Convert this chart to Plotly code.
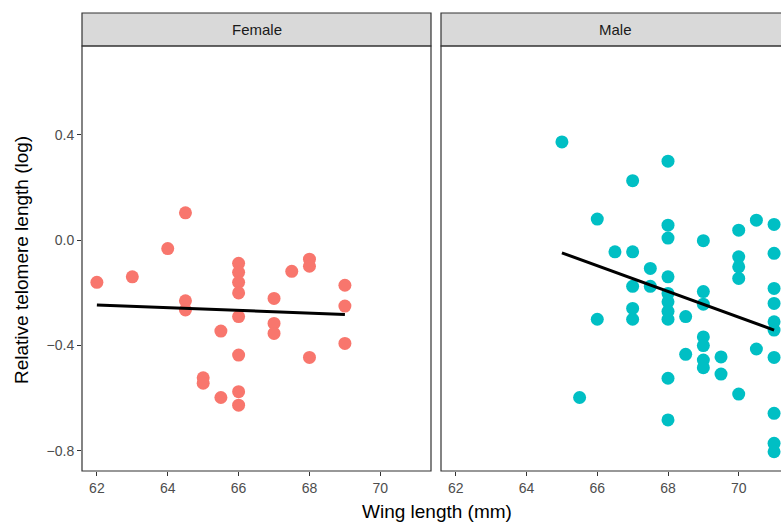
import plotly.graph_objects as go

# ---- data ----
female_wing = [62, 63, 64, 64.5, 64.5, 64.5, 65, 65, 65.5, 65.5,
               66, 66, 66, 66, 66, 66, 66, 66,
               67, 67, 67, 67.5, 68, 68, 68, 69, 69, 69]
female_tl = [-0.16, -0.139, -0.032, 0.104, -0.23, -0.265, -0.522, -0.543, -0.345, -0.597,
             -0.088, -0.122, -0.16, -0.20, -0.29, -0.436, -0.575, -0.626,
             -0.221, -0.316, -0.354, -0.118, -0.072, -0.099, -0.445, -0.171, -0.25, -0.392]

male_wing = [65, 65.5, 66, 66, 66.5,
             67, 67, 67, 67, 67, 67.5, 67.5,
             68, 68, 68, 68, 68, 68, 68, 68, 68, 68,
             68.5, 68.5,
             69, 69, 69, 69, 69, 69, 69,
             69.5, 69.5,
             70, 70, 70, 70, 70,
             70.5, 70.5,
             71, 71, 71, 71, 71, 71, 71, 71, 71, 71]
male_tl = [0.373, -0.597, 0.08, -0.30, -0.044,
           0.226, -0.044, -0.175, -0.259, -0.30, -0.107, -0.175,
           0.30, 0.057, 0.008, -0.139, -0.202, -0.234, -0.27, -0.30, -0.524, -0.682,
           -0.29, -0.433,
           -0.002, -0.195, -0.243, -0.367, -0.40, -0.455, -0.484,
           -0.443, -0.508,
           0.038, -0.063, -0.101, -0.145, -0.584,
           0.076, -0.413,
           0.06, -0.05, -0.183, -0.24, -0.31, -0.341, -0.445, -0.657, -0.771, -0.803]

# fitted regression lines
female_fit_x = [62, 69]
female_fit_y = [-0.246, -0.282]
male_fit_x = [65, 71]
male_fit_y = [-0.048, -0.341]

panels = ["Female", "Male"]
x_ticks = [62, 64, 66, 68, 70]
y_ticks = [-0.8, -0.4, 0.0, 0.4]
y_ticklabels = ["\u22120.8", "\u22120.4", "0.0", "0.4"]

FEMALE_COL = "#F8766D"
MALE_COL = "#00BFC4"
FONT = "Liberation Sans, Arial, sans-serif"

W, H = 781, 524
MB = 53
PH = H - MB  # plot height in px (top margin 0)

def py(px_from_top):
    return (PH - px_from_top) / PH

fx0, fx1 = 82 / W, 431 / W
mx0, mx1 = 441 / W, 1.0
yd0, yd1 = 0.0, py(46)
strip_top = py(13)

fig = go.Figure()

fig.add_trace(go.Scatter(x=female_wing, y=female_tl, mode="markers",
                         marker=dict(color=FEMALE_COL, size=13, line=dict(width=0)),
                         xaxis="x", yaxis="y", showlegend=False))
fig.add_trace(go.Scatter(x=female_fit_x, y=female_fit_y, mode="lines",
                         line=dict(color="black", width=3),
                         xaxis="x", yaxis="y", showlegend=False))
fig.add_trace(go.Scatter(x=male_wing, y=male_tl, mode="markers",
                         marker=dict(color=MALE_COL, size=13, line=dict(width=0)),
                         xaxis="x2", yaxis="y2", showlegend=False))
fig.add_trace(go.Scatter(x=male_fit_x, y=male_fit_y, mode="lines",
                         line=dict(color="black", width=3),
                         xaxis="x2", yaxis="y2", showlegend=False))

yrange = [-0.876, 0.737]
tickfont = dict(family=FONT, size=14, color="#4D4D4D")

common_x = dict(tickvals=x_ticks, ticks="outside", ticklen=4, tickwidth=1,
                tickcolor="#333333", tickfont=tickfont, showgrid=False,
                zeroline=False, showline=False)

fig.update_layout(
    width=W, height=H,
    margin=dict(l=0, r=0, t=0, b=MB),
    paper_bgcolor="white", plot_bgcolor="white",
    xaxis=dict(domain=[fx0, fx1], range=[61.58, 71.43], anchor="y", **common_x),
    xaxis2=dict(domain=[mx0, mx1], range=[61.58, 71.196], anchor="y2", **common_x),
    yaxis=dict(domain=[yd0, yd1], range=yrange, anchor="x",
               tickvals=y_ticks, ticktext=y_ticklabels, ticks="outside",
               ticklen=4, tickwidth=1, tickcolor="#333333", tickfont=tickfont,
               showgrid=False, zeroline=False, showline=False),
    yaxis2=dict(domain=[yd0, yd1], range=yrange, anchor="x2",
                showticklabels=False, ticks="", showgrid=False,
                zeroline=False, showline=False),
    font=dict(family=FONT),
)

line = dict(color="#333333", width=1.2)
shapes = [
    # panel borders
    dict(type="rect", xref="paper", yref="paper", x0=fx0, x1=fx1, y0=yd0, y1=yd1,
         line=line, fillcolor="rgba(0,0,0,0)", layer="above"),
    dict(type="rect", xref="paper", yref="paper", x0=mx0, x1=1.05, y0=yd0, y1=yd1,
         line=line, fillcolor="rgba(0,0,0,0)", layer="above"),
    # strips
    dict(type="rect", xref="paper", yref="paper", x0=fx0, x1=fx1, y0=yd1, y1=strip_top,
         line=line, fillcolor="#D9D9D9", layer="below"),
    dict(type="rect", xref="paper", yref="paper", x0=mx0, x1=1.05, y0=yd1, y1=strip_top,
         line=line, fillcolor="#D9D9D9", layer="below"),
]
fig.update_layout(shapes=shapes)

annotations = [
    dict(text=panels[0], xref="paper", yref="paper", x=(fx0 + fx1) / 2,
         y=(yd1 + strip_top) / 2, showarrow=False,
         font=dict(family=FONT, size=15, color="#1A1A1A"), xanchor="center", yanchor="middle"),
    dict(text=panels[1], xref="paper", yref="paper", x=(mx0 + 790 / W) / 2,
         y=(yd1 + strip_top) / 2, showarrow=False,
         font=dict(family=FONT, size=15, color="#1A1A1A"), xanchor="center", yanchor="middle"),
    dict(text="Wing length (mm)", xref="paper", yref="paper", x=437 / W,
         y=py(511), showarrow=False, font=dict(family=FONT, size=19, color="#000000"),
         xanchor="center", yanchor="middle"),
    dict(text="Relative telomere length (log)", xref="paper", yref="paper", x=21 / W,
         y=py(260), showarrow=False, textangle=-90,
         font=dict(family=FONT, size=19, color="#000000"),
         xanchor="center", yanchor="middle"),
]
fig.update_layout(annotations=annotations)

fig.write_html("out.html", config={"displayModeBar": False},
               post_script="document.body.style.margin='0';document.body.style.overflow='hidden';")
